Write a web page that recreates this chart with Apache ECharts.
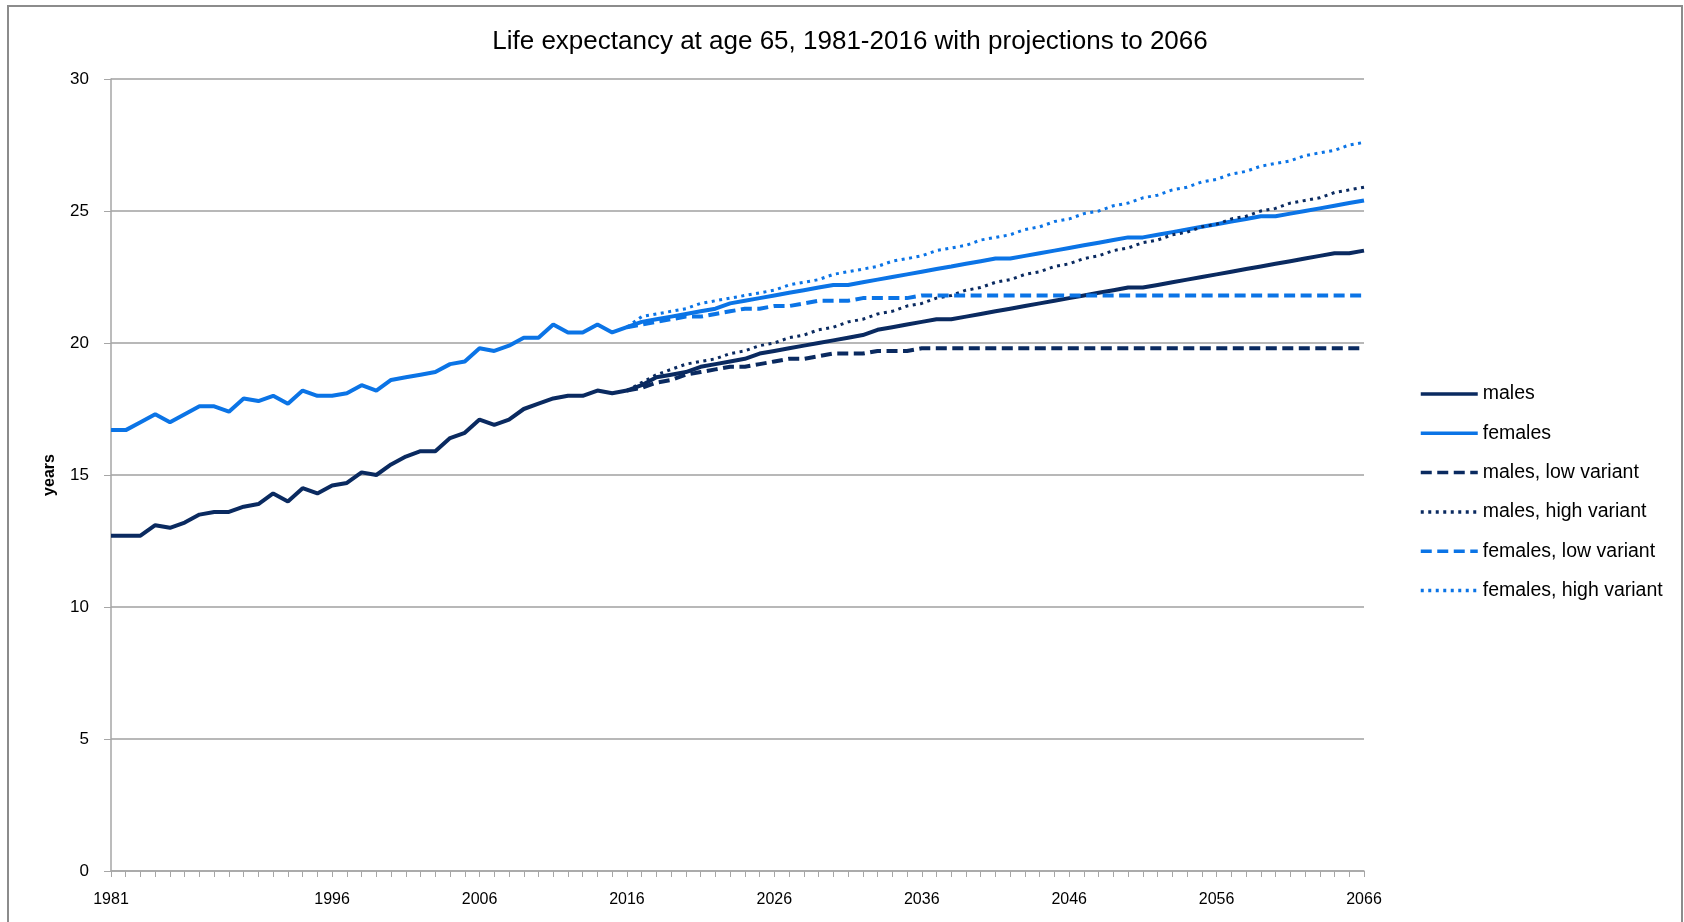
<!DOCTYPE html>
<html>
<head>
<meta charset="utf-8">
<title>Life expectancy at age 65</title>
<script src="https://cdn.jsdelivr.net/npm/echarts@6/dist/echarts.min.js"></script>
<style>
  html, body { margin: 0; padding: 0; background: #fff; }
  #chart { width: 1684px; height: 922px; }
</style>
</head>
<body>
<div id="chart"></div>
<script>
// years 1981..2066 on the category axis
const years = []
for (let y = 1981; y <= 2066; y++) years.push(String(y))

// observed 1981-2016
const malesObserved = [
  12.7, 12.7, 12.7, 13.1, 13.0, 13.2, 13.5, 13.6, 13.6, 13.8,
  13.9, 14.3, 14.0, 14.5, 14.3, 14.6, 14.7, 15.1, 15.0, 15.4,
  15.7, 15.9, 15.9, 16.4, 16.6, 17.1, 16.9, 17.1, 17.5, 17.7,
  17.9, 18.0, 18.0, 18.2, 18.1, 18.2
]
const femalesObserved = [
  16.7, 16.7, 17.0, 17.3, 17.0, 17.3, 17.6, 17.6, 17.4, 17.9,
  17.8, 18.0, 17.7, 18.2, 18.0, 18.0, 18.1, 18.4, 18.2, 18.6,
  18.7, 18.8, 18.9, 19.2, 19.3, 19.8, 19.7, 19.9, 20.2, 20.2,
  20.7, 20.4, 20.4, 20.7, 20.4, 20.6
]

// principal projection 2017-2066
const malesProjected = [
  18.4, 18.7, 18.8, 18.9, 19.1, 19.2, 19.3, 19.4, 19.6, 19.7,
  19.8, 19.9, 20.0, 20.1, 20.2, 20.3, 20.5, 20.6, 20.7, 20.8,
  20.9, 20.9, 21.0, 21.1, 21.2, 21.3, 21.4, 21.5, 21.6, 21.7,
  21.8, 21.9, 22.0, 22.1, 22.1, 22.2, 22.3, 22.4, 22.5, 22.6,
  22.7, 22.8, 22.9, 23.0, 23.1, 23.2, 23.3, 23.4, 23.4, 23.5
]
const femalesProjected = [
  20.8, 20.9, 21.0, 21.1, 21.2, 21.3, 21.5, 21.6, 21.7, 21.8,
  21.9, 22.0, 22.1, 22.2, 22.2, 22.3, 22.4, 22.5, 22.6, 22.7,
  22.8, 22.9, 23.0, 23.1, 23.2, 23.2, 23.3, 23.4, 23.5, 23.6,
  23.7, 23.8, 23.9, 24.0, 24.0, 24.1, 24.2, 24.3, 24.4, 24.5,
  24.6, 24.7, 24.8, 24.8, 24.9, 25.0, 25.1, 25.2, 25.3, 25.4
]

// variants 2016-2066
const malesLow = [
  18.2, 18.3, 18.5, 18.6, 18.8, 18.9, 19.0, 19.1, 19.1, 19.2,
  19.3, 19.4, 19.4, 19.5, 19.6, 19.6, 19.6, 19.7, 19.7, 19.7,
  19.8, 19.8, 19.8, 19.8, 19.8, 19.8, 19.8, 19.8, 19.8, 19.8,
  19.8, 19.8, 19.8, 19.8, 19.8, 19.8, 19.8, 19.8, 19.8, 19.8,
  19.8, 19.8, 19.8, 19.8, 19.8, 19.8, 19.8, 19.8, 19.8, 19.8, 19.8
]
const malesHigh = [
  18.2, 18.5, 18.8, 19.0, 19.2, 19.3, 19.4, 19.6, 19.7, 19.9,
  20.0, 20.2, 20.3, 20.5, 20.6, 20.8, 20.9, 21.1, 21.2, 21.4,
  21.5, 21.7, 21.8, 22.0, 22.1, 22.3, 22.4, 22.6, 22.7, 22.9,
  23.0, 23.2, 23.3, 23.5, 23.6, 23.8, 23.9, 24.1, 24.2, 24.4,
  24.5, 24.7, 24.8, 25.0, 25.1, 25.3, 25.4, 25.5, 25.7, 25.8, 25.9
]
const femalesLow = [
  20.6, 20.7, 20.8, 20.9, 21.0, 21.0, 21.1, 21.2, 21.3, 21.3,
  21.4, 21.4, 21.5, 21.6, 21.6, 21.6, 21.7, 21.7, 21.7, 21.7,
  21.8, 21.8, 21.8, 21.8, 21.8, 21.8, 21.8, 21.8, 21.8, 21.8,
  21.8, 21.8, 21.8, 21.8, 21.8, 21.8, 21.8, 21.8, 21.8, 21.8,
  21.8, 21.8, 21.8, 21.8, 21.8, 21.8, 21.8, 21.8, 21.8, 21.8, 21.8
]
const femalesHigh = [
  20.6, 21.0, 21.1, 21.2, 21.3, 21.5, 21.6, 21.7, 21.8, 21.9,
  22.0, 22.2, 22.3, 22.4, 22.6, 22.7, 22.8, 22.9, 23.1, 23.2,
  23.3, 23.5, 23.6, 23.7, 23.9, 24.0, 24.1, 24.3, 24.4, 24.6,
  24.7, 24.9, 25.0, 25.2, 25.3, 25.5, 25.6, 25.8, 25.9, 26.1,
  26.2, 26.4, 26.5, 26.7, 26.8, 26.9, 27.1, 27.2, 27.3, 27.5, 27.6
]

const MALE = '#0a2a60'
const FEMALE = '#0b74e6'
const font = 'Liberation Sans'
const DASH = [11, 5.5]
const DOT = [3, 4.5]

// pad the variants so they start at 2016 (index 35)
const pad = new Array(35).fill(null)

function line(name, data, color, type, width) {
  return {
    name: name,
    type: 'line',
    data: data,
    symbol: 'none',
    showSymbol: false,
    silent: true,
    animation: false,
    lineStyle: { color: color, width: width, type: type },
    itemStyle: { color: color }
  }
}

const option = {
  backgroundColor: '#fff',
  animation: false,
  title: {
    text: 'Life expectancy at age 65, 1981-2016 with projections to 2066',
    left: 845,
    textAlign: 'center',
    top: 24,
    textStyle: { fontFamily: font, fontWeight: 'normal', fontSize: 26, color: '#000' }
  },
  legend: {
    orient: 'vertical',
    left: 1414,
    top: 379,
    itemWidth: 57,
    itemHeight: 14,
    itemGap: 19.3,
    itemStyle: { opacity: 0 },
    lineStyle: { width: 3.5 },
    textStyle: { fontFamily: font, fontSize: 19.5, color: '#000' },
    data: ['males', 'females', 'males, low variant', 'males, high variant', 'females, low variant', 'females, high variant']
  },
  graphic: [{
    type: 'rect',
    shape: { x: 8, y: 6, width: 1674, height: 930 },
    style: { fill: 'none', stroke: '#8c8c8c', lineWidth: 2 },
    silent: true
  }],
  grid: { left: 111, right: 320, top: 79, bottom: 51 },
  xAxis: {
    type: 'category',
    data: years,
    boundaryGap: false,
    axisLine: { lineStyle: { color: '#a6a6a6', width: 1.5 } },
    axisTick: { show: true, interval: 0, length: 6, lineStyle: { color: '#a6a6a6' } },
    axisLabel: {
      interval: function (i, v) {
        const y = +v
        return y === 1981 || (y >= 1996 && (y - 1996) % 10 === 0)
      },
      margin: 21,
      fontFamily: font,
      fontSize: 16,
      color: '#000'
    },
    splitLine: { show: false }
  },
  yAxis: {
    type: 'value',
    min: 0,
    max: 30,
    interval: 5,
    name: 'years',
    nameLocation: 'middle',
    nameGap: 53,
    nameRotate: 90,
    nameTextStyle: { fontFamily: font, fontWeight: 'bold', fontSize: 16, color: '#000' },
    axisLine: { show: true, lineStyle: { color: '#a6a6a6', width: 1.5 } },
    axisTick: { show: true, length: 7, lineStyle: { color: '#a6a6a6' } },
    axisLabel: { margin: 22, fontFamily: font, fontSize: 17, color: '#000' },
    splitLine: { lineStyle: { color: '#a0a0a0', width: 1.5 } }
  },
  series: [
    line('males', malesObserved.concat(malesProjected), MALE, 'solid', 4),
    line('females', femalesObserved.concat(femalesProjected), FEMALE, 'solid', 4),
    line('males, low variant', pad.concat(malesLow), MALE, DASH, 4),
    line('males, high variant', pad.concat(malesHigh), MALE, DOT, 3),
    line('females, low variant', pad.concat(femalesLow), FEMALE, DASH, 4),
    line('females, high variant', pad.concat(femalesHigh), FEMALE, DOT, 3)
  ]
}

const chart = echarts.init(document.getElementById('chart'))
chart.setOption(option)
</script>
</body>
</html>
